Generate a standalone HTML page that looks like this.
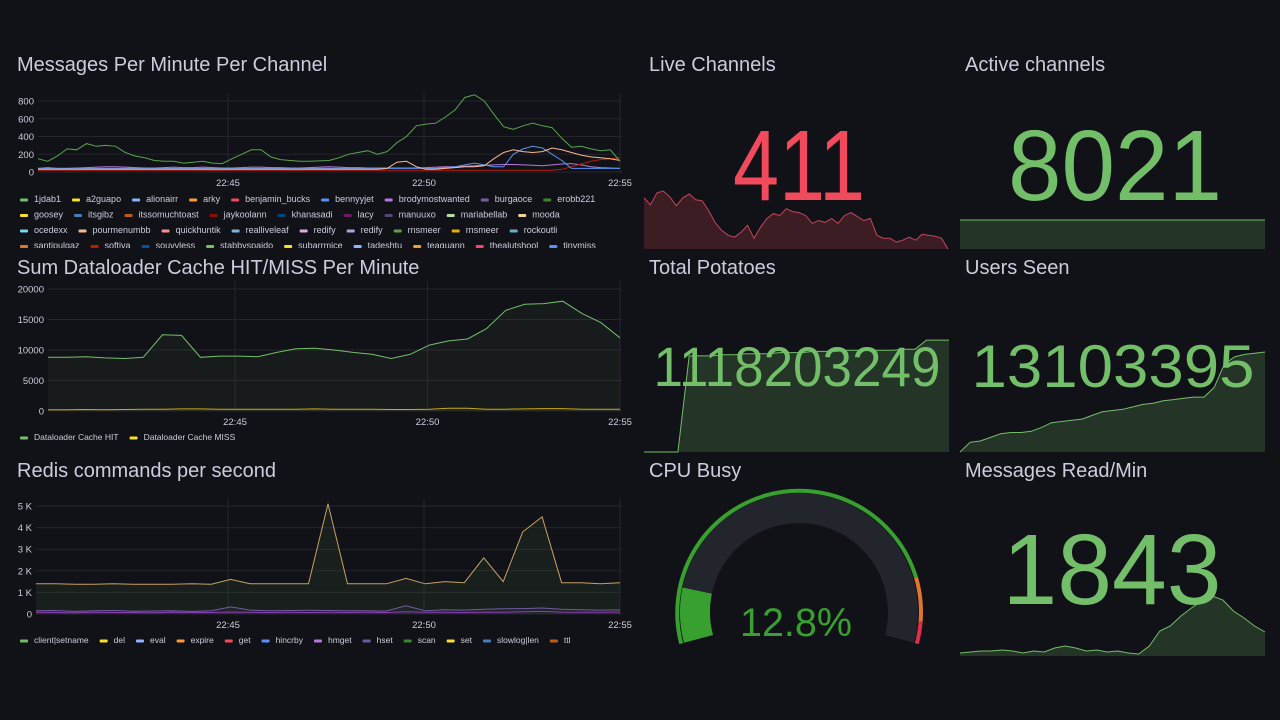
<!DOCTYPE html>
<html><head><meta charset="utf-8">
<style>
html,body{margin:0;padding:0;background:#111217;width:1280px;height:720px;overflow:hidden;font-family:"Liberation Sans",sans-serif;}
svg{position:absolute;left:0;top:0}
</style></head>
<body>
<svg id="s" width="1280" height="720" viewBox="0 0 1280 720"></svg>
<script>
// ---------- data ----------
const timeTicks=["22:45","22:50","22:55"];
const tickMinutes=[5,10,15];
const msgTicks=[0,200,400,600,800];
const msg_1jdab1=[150,120,180,260,250,320,290,300,290,220,180,160,130,120,120,100,110,120,100,95,150,200,250,250,170,140,130,120,120,125,130,160,200,220,240,200,230,330,400,520,540,550,620,700,840,870,800,650,510,480,520,550,520,500,380,280,290,260,240,250,120];
const msg_pourmenumbb=[30,30,30,30,30,30,30,30,30,30,30,30,30,30,30,30,30,30,30,30,30,30,30,30,30,30,30,30,30,30,30,30,30,30,30,30,40,110,120,60,30,30,40,50,60,60,70,150,220,250,230,220,230,270,250,220,190,170,160,150,130];
const msg_bennyyjet=[40,40,40,40,40,40,40,40,40,40,40,40,40,40,40,40,40,40,40,40,40,40,40,40,40,40,40,40,40,40,40,40,40,40,40,40,40,40,40,40,40,40,50,60,80,100,80,60,60,200,260,290,270,200,130,40,40,40,40,40,40];
const msg_softiya=[20,20,20,20,20,20,20,20,20,20,20,20,20,20,20,20,20,20,20,20,20,20,20,20,20,20,20,20,20,20,20,20,20,20,20,20,20,20,20,20,20,20,20,20,20,20,20,20,20,20,20,20,20,20,30,60,90,120,140,150,160];
const msg_brody=[40,50,40,40,45,50,55,60,60,55,50,45,45,50,55,50,50,55,50,45,45,50,55,55,50,50,45,45,50,55,60,55,50,50,45,45,45,45,45,45,50,55,60,60,65,70,75,80,85,85,80,75,70,80,90,95,80,60,50,45,40];
const legend1=[["1jdab1","#73BF69"],["a2guapo","#FADE2A"],["alionairr","#8AB8FF"],["arky","#FF9830"],["benjamin_bucks","#F2495C"],["bennyyjet","#5794F2"],["brodymostwanted","#B877D9"],["burgaoce","#705DA0"],["erobb221","#37872D"],["goosey","#FADE2A"],["itsgibz","#447EBC"],["itssomuchtoast","#C15C17"],["jaykoolann","#890F02"],["khanasadi","#0A437C"],["lacy","#6D1F62"],["manuuxo","#584477"],["mariabellab","#B7DBAB"],["mooda","#F4D598"],["ocedexx","#70DBED"],["pourmenumbb","#F9BA8F"],["quickhuntik","#F29191"],["realliveleaf","#82B5D8"],["redify","#E5A8E2"],["redify","#AEA2E0"],["rnsmeer","#629E51"],["rnsmeer","#E5AC0E"],["rockoutli","#64B0C8"],["santipulgaz","#E0752D"],["softiya","#BF1B00"],["souvvless","#0A50A1"],["stabbyspaido","#73BF69"],["subarrmice","#FADE2A"],["tadeshtu","#8AB8FF"],["teaguann","#FF9830"],["thealutshool","#F2495C"],["tinymiss","#5794F2"],["viki","#B877D9"],["vaxxhu","#705DA0"],["yna","#37872D"]];
const cacheTicks=[0,5000,10000,15000,20000];
const cacheHit=[8800,8800,8900,8700,8600,8800,12500,12400,8800,9000,9000,8900,9600,10200,10300,10000,9600,9300,8600,9300,10800,11500,11800,13500,16500,17500,17600,18000,16000,14500,12000];
const cacheMiss=[200,200,250,200,250,300,300,350,350,300,300,300,300,300,350,300,300,300,250,250,300,450,450,300,300,350,400,400,300,300,300];
const redisTicks=[0,1000,2000,3000,4000,5000];
const redisTickLabels=["0","1 K","2 K","3 K","4 K","5 K"];
const redisDel=[1400,1400,1380,1380,1400,1380,1380,1380,1400,1380,1600,1400,1400,1400,1400,5100,1400,1400,1400,1650,1400,1500,1450,2600,1500,3800,4500,1450,1450,1400,1450];
const redisHset=[150,160,120,150,160,130,140,150,120,150,330,180,150,160,170,160,150,150,140,380,150,200,180,220,240,250,280,220,200,180,190];
const redisScan=[80,70,60,80,70,70,60,80,70,70,90,80,70,80,70,80,70,80,70,100,80,80,70,90,80,100,120,90,80,80,90];
const legend3=[["client|setname","#73BF69"],["del","#FADE2A"],["eval","#8AB8FF"],["expire","#FF9830"],["get","#F2495C"],["hincrby","#5794F2"],["hmget","#B877D9"],["hset","#705DA0"],["scan","#37872D"],["set","#FADE2A"],["slowlog|len","#447EBC"],["ttl","#C15C17"]];
const liveSpark=[52,45,57,59,53,44,52,56,50,49,39,27,19,14,12,17,24,11,22,31,36,34,41,38,37,34,26,29,27,31,26,34,37,33,29,31,14,11,11,7,9,12,9,15,14,13,11,0];
const activeSpark=[8021,8021,8021,8021,8021,8021,8021,8021,8021,8021];
const potatoSpark=[0,0,0,0,85,85,85,86,86,87,87,87,88,88,88,89,89,89,90,90,90,90,90,91,91,99,99,99];
const usersSpark=[0,8,9,12,15,16,16,17,20,24,25,26,27,30,33,34,35,37,39,40,42,43,44,45,45,53,72,78,80,81,82];
const readSpark=[3,4,5,5,6,5,3,5,4,8,10,8,5,6,4,5,3,2,10,25,30,40,48,55,60,56,45,38,30,24];
const cpuValue=12.8;

// ---------- helpers ----------
const NS="http://www.w3.org/2000/svg";
const svg=document.getElementById('s');
function mk(tag,attrs,parent){const e=document.createElementNS(NS,tag);for(const k in attrs)e.setAttribute(k,attrs[k]);(parent||svg).appendChild(e);return e;}
function txt(x,y,s,size,fill,anchor,parent){const t=mk('text',{x:x,y:y,'font-size':size,fill:fill,'text-anchor':anchor||'start','font-family':'Liberation Sans, sans-serif'},parent);t.textContent=s;return t;}
function title(x,y,s,name){const t=txt(x,y,s,20,'#ccccdc');}
function bigValue(x,y,s,size,color,width,name){const t=txt(x,y,s,size,color,'middle');t.setAttribute('textLength',width);t.setAttribute('lengthAdjust','spacingAndGlyphs');}

function timeChart(cfg){
  const g=mk('g',{});
  
  
  const ppm=(cfg.x55-cfg.x45)/10;
  const xs=m=>cfg.x45+(m-5)*ppm;
  const ys=v=>cfg.yBot-(v/cfg.ymax)*(cfg.yBot-cfg.yTop);
  cfg.ticks.forEach((v,i)=>{
    mk('line',{x1:cfg.x0,x2:cfg.x55+2,y1:ys(v),y2:ys(v),stroke:'#23252b','stroke-width':1},g);
    const l=txt(cfg.x0-4,ys(v)+3.5,cfg.tickLabels?cfg.tickLabels[i]:String(v),9.5,'#ccccdc','end',g);
    
    
  });
  tickMinutes.forEach((m,i)=>{
    mk('line',{x1:xs(m),x2:xs(m),y1:cfg.yTop-8,y2:cfg.yBot,stroke:'#23252b','stroke-width':1},g);
    const l=txt(xs(m),cfg.yBot+14,timeTicks[i],9.5,'#ccccdc','middle',g);
    
    
  });
  const m0=5-(cfg.x45-cfg.x0)/ppm;
  cfg.series.forEach(s=>{
    const n=s.data.length;
    const pts=s.data.map((v,i)=>[xs(m0+(15-m0)*i/(n-1)),ys(v)]);
    const d=pts.map((p,i)=>(i?'L':'M')+p[0].toFixed(1)+','+p[1].toFixed(1)).join('');
    if(s.fill){const a=mk('path',{d:d+`L${pts[n-1][0]},${cfg.yBot}L${pts[0][0]},${cfg.yBot}Z`,fill:s.fill},g);
      }
    const p=mk('path',{d:d,fill:'none',stroke:s.color,'stroke-width':1},g);
    
    
  });
  return g;
}
function legend(items,x0,y0,maxX,rowH,parent,size){
  let x=x0,y=y0;
  items.forEach(it=>{
    const g=mk('g',{},parent);
    
    
    mk('rect',{x:0,y:-3.5,width:8,height:3,rx:1,fill:it[1]},g);
    const t=txt(14,0,it[0],size||8.5,'#ccccdc','start',g);
    const w=t.getComputedTextLength()+14+11;
    if(x+w-11>maxX){x=x0;y+=rowH;}
    g.setAttribute('transform',`translate(${x},${y})`);
    x+=w;
  });
}
function spark(data,x0,x1,yTop,yBot,vmin,vmax,color,fill,name){
  const n=data.length;
  const pts=data.map((v,i)=>[x0+(x1-x0)*i/(n-1),yBot-(v-vmin)/(vmax-vmin)*(yBot-yTop)]);
  const d=pts.map((p,i)=>(i?'L':'M')+p[0].toFixed(1)+','+p[1].toFixed(1)).join('');
  const a=mk('path',{d:d+`L${x1},${yBot}L${x0},${yBot}Z`,fill:fill});
  
  
  const l=mk('path',{d:d,fill:'none',stroke:color,'stroke-width':1});
  
  
}
const defs=mk('defs',{});
const cl=mk('clipPath',{id:'clipLeg'},defs);
mk('rect',{x:0,y:190,width:640,height:58},cl);

// ---------- panel 1 ----------
title(17,71,'Messages Per Minute Per Channel','messages-per-minute-title');
timeChart({name:'messages-chart',x0:38,x45:228,x55:620,yTop:101,yBot:172,ymax:800,ticks:msgTicks,
  series:[{name:'brodymostwanted',data:msg_brody,color:'#B877D9'},{name:'softiya',data:msg_softiya,color:'#BF1B00'},{name:'bennyyjet',data:msg_bennyyjet,color:'#5794F2'},{name:'pourmenumbb',data:msg_pourmenumbb,color:'#F9BA8F'},{name:'1jdab1',data:msg_1jdab1,color:'#56A64B'}]});
const legWrap=mk('g',{'clip-path':'url(#clipLeg)'});


legend(legend1,20,202,612,15.5,legWrap,9);

// ---------- panel 2 ----------
title(17,274,'Sum Dataloader Cache HIT/MISS Per Minute','cache-hit-miss-title');
timeChart({name:'cache-chart',x0:48,x45:235,x55:620,yTop:289,yBot:411,ymax:20000,ticks:cacheTicks,
  series:[{name:'cache-hit',data:cacheHit,color:'#73BF69',fill:'rgba(115,191,105,0.06)'},{name:'cache-miss',data:cacheMiss,color:'#C8A820',fill:'rgba(250,222,42,0.05)'}]});
legend([["Dataloader Cache HIT","#73BF69"],["Dataloader Cache MISS","#FADE2A"]],20,440,620,15,svg,8.5);

// ---------- panel 3 ----------
title(17,477,'Redis commands per second','redis-commands-title');
timeChart({name:'redis-chart',x0:36,x45:228,x55:620,yTop:506,yBot:614,ymax:5000,ticks:redisTicks,tickLabels:redisTickLabels,
  series:[{name:'del',data:redisDel,color:'#C8A060',fill:'rgba(115,191,105,0.08)'},{name:'hset',data:redisHset,color:'#705DA0',fill:'rgba(112,93,160,0.1)'},{name:'scan',data:redisScan,color:'#8F3BB8'}]});
legend(legend3,20,643,620,15,svg,8.5);

// ---------- stat panels ----------
title(649,71,'Live Channels','live-channels-title');
spark(liveSpark,644,948,190,249,0,60,'#C4465A','rgba(242,73,92,0.2)','live-channels-sparkline');
bigValue(799,200,'411',100,'#F2495C',132,'live-channels-value');

title(965,71,'Active channels','active-channels-title');
spark(activeSpark,960,1265,220,249,0,8021,'#73BF69','rgba(115,191,105,0.2)','active-channels-sparkline');
bigValue(1115,200,'8021',100,'#73BF69',214,'active-channels-value');

title(649,274,'Total Potatoes','total-potatoes-title');
spark(potatoSpark,644,949,339,452,0,100,'#73BF69','rgba(115,191,105,0.2)','total-potatoes-sparkline');
bigValue(797,386,'1118203249',56,'#73BF69',287,'total-potatoes-value');

title(965,274,'Users Seen','users-seen-title');
spark(usersSpark,960,1265,352,452,0,82,'#73BF69','rgba(115,191,105,0.2)','users-seen-sparkline');
bigValue(1113,387,'13103395',60,'#73BF69',283,'users-seen-value');

title(965,477,'Messages Read/Min','messages-read-title');
spark(readSpark,960,1265,596,656,0,60,'#73BF69','rgba(115,191,105,0.2)','messages-read-sparkline');
bigValue(1112,604,'1843',100,'#73BF69',219,'messages-read-value');

// ---------- CPU gauge ----------
title(649,477,'CPU Busy','cpu-busy-title');
(function(){
  const cx=799,cy=612,R=122,a0=195,a1=-15;
  const pt=(r,a)=>[cx+r*Math.cos(a*Math.PI/180),cy-r*Math.sin(a*Math.PI/180)];
  const arc=(r,s,e)=>{const p=pt(r,s),q=pt(r,e);const large=(s-e)>180?1:0;return `M${p[0].toFixed(1)},${p[1].toFixed(1)}A${r},${r} 0 ${large} 1 ${q[0].toFixed(1)},${q[1].toFixed(1)}`;};
  const span=a0-a1;const ang=f=>a0-span*f;
  const g=mk('g',{});
  
  
  mk('path',{d:arc(R,a0,ang(0.85)),fill:'none',stroke:'#37A02E','stroke-width':4},g);
  mk('path',{d:arc(R,ang(0.85),ang(0.95)),fill:'none',stroke:'#E0752D','stroke-width':4},g);
  mk('path',{d:arc(R,ang(0.95),a1),fill:'none',stroke:'#E02F44','stroke-width':4},g);
  mk('path',{d:arc(104,a0,a1),fill:'none',stroke:'#22252b','stroke-width':30},g);
  const b=mk('path',{d:arc(104,a0,ang(cpuValue/100)),fill:'none',stroke:'#37A02E','stroke-width':30},g);
  
  
  const t=txt(cx-3,636,cpuValue.toFixed(1)+'%',40,'#37A02E','middle',g);
  t.setAttribute('textLength',112);
  t.setAttribute('lengthAdjust','spacingAndGlyphs');
  
  
})();
</script>
</body></html>
